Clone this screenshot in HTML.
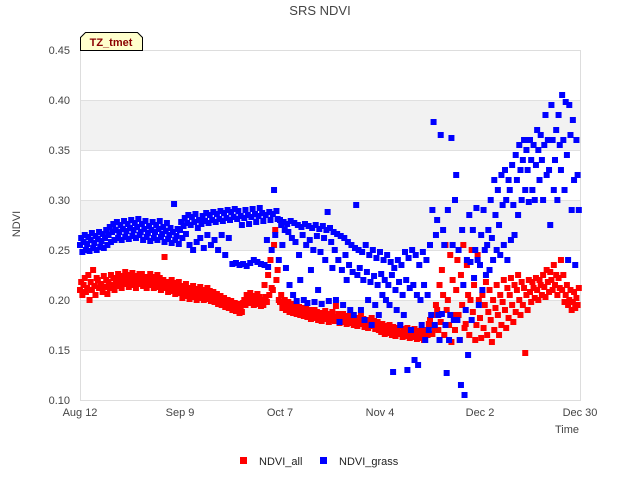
<!DOCTYPE html>
<html><head><meta charset="utf-8"><style>
body{margin:0;background:#fff;}
svg text{font-family:"Liberation Sans",sans-serif;}
</style></head><body>
<svg id="chart" width="640" height="480" xmlns="http://www.w3.org/2000/svg">
<rect x="0" y="0" width="640" height="480" fill="#fff"/>
<text x="320" y="15" text-anchor="middle" font-size="13" fill="#444">SRS NDVI</text>
<g id="grid"></g>
<g id="yticks"></g>
<g id="xticks"></g>
<g id="marks"></g>
<text x="20" y="224" transform="rotate(-90 20 224)" text-anchor="middle" font-size="11" fill="#444">NDVI</text>
<text x="579" y="433" text-anchor="end" font-size="11" fill="#444">Time</text>
<g>
<path d="M80.5,50.5 L80.5,37.5 L85.5,32.5 L137.5,32.5 L142.5,37.5 L142.5,50.5 Z" fill="#ffffcc" stroke="#000" stroke-width="1"/>
<text x="111" y="46" text-anchor="middle" font-size="11" font-weight="bold" fill="#8b0000">TZ_tmet</text>
</g>
<g>
<g><rect x="240" y="457" width="7" height="7" fill="#ff0000"/><text x="259" y="465" font-size="11" fill="#222">NDVI_all</text></g>
<g><rect x="320" y="457" width="7" height="7" fill="#0000ff"/><text x="339" y="465" font-size="11" fill="#222">NDVI_grass</text></g>
</g>
</svg>
<script>
const yTicks=[0.10,0.15,0.20,0.25,0.30,0.35,0.40,0.45];
const yTickLabels=["0.10","0.15","0.20","0.25","0.30","0.35","0.40","0.45"];
const xTickDays=[0,28,56,84,112,140];
const xTickLabels=["Aug 12","Sep 9","Oct 7","Nov 4","Dec 2","Dec 30"];
const ndviAll=[
[.210,.218,.205],[.215,.222,.208],[.212,.225,.200],[.218,.210,.230],[.214,.205,.222],[.220,.212,.215],[.216,.208,.224],
[.213,.220,.206],[.218,.212,.225],[.215,.222,.210],[.220,.214,.226],[.218,.224,.212],[.222,.216,.228],[.219,.225,.213],
[.221,.215,.227],[.218,.224,.212],[.222,.216,.226],[.220,.226,.214],[.218,.223,.212],[.221,.215,.226],[.217,.223,.212],
[.219,.213,.225],[.216,.222,.210],[.214,.220,.243],[.212,.218,.208],[.215,.209,.220],[.211,.217,.206],[.213,.207,.218],
[.208,.214,.202],[.210,.204,.216],[.207,.212,.201],[.209,.203,.214],[.206,.211,.200],[.208,.202,.213],[.205,.210,.200],
[.207,.201,.212],[.204,.209,.199],[.203,.208,.198],[.200,.206,.196],[.199,.204,.195],[.197,.202,.193],[.196,.200,.192],
[.194,.199,.190],[.193,.197,.189],[.191,.196,.187],[.192,.188,.197],[.200,.195,.205],[.202,.197,.207],[.199,.204,.195],
[.201,.196,.206],[.198,.203,.194],[.200,.195,.215],[.203,.198,.225],[.205,.240,.212],[.210,.255,.270],[.220,.230,.200],
[.198,.205,.192],[.195,.200,.190],[.193,.198,.188],[.191,.196,.187],[.190,.194,.186],[.189,.193,.185],[.188,.192,.184],
[.187,.191,.183],[.185,.190,.181],[.186,.182,.190],[.184,.188,.180],[.183,.187,.179],[.185,.181,.189],[.182,.186,.178],
[.184,.180,.188],[.183,.179,.194],[.181,.186,.177],[.182,.178,.186],[.180,.184,.176],[.181,.177,.185],[.179,.183,.175],
[.178,.182,.174],[.180,.176,.184],[.177,.181,.173],[.176,.180,.172],[.178,.174,.182],[.175,.179,.171],[.174,.178,.170],
[.172,.168,.176],[.170,.166,.174],[.171,.167,.175],[.169,.165,.173],[.168,.164,.172],[.170,.166,.174],[.167,.163,.171],
[.168,.164,.172],[.166,.162,.170],[.167,.163,.171],[.165,.161,.169],[.166,.162,.170],[.164,.160,.168],[.170,.165,.176],
[.180,.175,.166],[.185,.172,.195],[.190,.170,.215],[.178,.230,.205],[.165,.255,.190],[.200,.175,.245],[.158,.220,.185],
[.170,.210,.240],[.185,.160,.225],[.195,.255,.172],[.176,.235,.205],[.165,.200,.250],[.188,.215,.160],[.175,.245,.200],
[.182,.162,.205],[.172,.195,.218],[.165,.188,.210],[.180,.158,.200],[.170,.192,.215],[.185,.165,.205],[.175,.198,.220],
[.190,.172,.212],[.182,.205,.222],[.195,.178,.215],[.188,.210,.225],[.200,.185,.218],[.195,.212,.147],[.205,.190,.220],
[.208,.198,.218],[.212,.202,.222],[.210,.200,.220],[.215,.205,.225],[.213,.203,.230],[.218,.208,.228],[.220,.210,.235],
[.215,.225,.205],[.222,.212,.240],[.210,.225,.198],[.205,.215,.195],[.200,.210,.190],[.198,.208,.192],[.202,.195,.212]
];
const ndviGrass=[
[.255,.262,.248],[.258,.265,.250],[.256,.263,.249],[.260,.267,.252],[.257,.264,.250],[.261,.268,.253],[.259,.266,.252],
[.262,.270,.255],[.265,.273,.258],[.268,.276,.260],[.270,.278,.262],[.268,.275,.260],[.271,.279,.263],[.269,.276,.261],
[.272,.280,.264],[.270,.277,.262],[.273,.281,.265],[.268,.276,.260],[.271,.279,.263],[.267,.274,.259],[.270,.278,.262],
[.268,.275,.260],[.271,.279,.263],[.266,.273,.258],[.269,.277,.261],[.265,.272,.257],[.268,.296,.260],[.264,.271,.256],
[.270,.278,.262],[.274,.282,.266],[.277,.285,.255],[.275,.283,.250],[.278,.286,.258],[.272,.280,.262],[.276,.284,.252],
[.279,.287,.265],[.277,.285,.255],[.280,.288,.260],[.278,.286,.250],[.281,.289,.265],[.279,.287,.245],[.282,.290,.262],
[.280,.288,.236],[.283,.291,.237],[.281,.289,.235],[.284,.275,.236],[.282,.290,.234],[.285,.276,.237],[.283,.291,.240],
[.286,.278,.238],[.284,.292,.236],[.287,.279,.235],[.285,.260,.233],[.288,.280,.250],[.286,.310,.265],[.289,.281,.240],
[.280,.275,.255],[.278,.270,.232],[.276,.268,.215],[.279,.262,.205],[.277,.258,.199],[.275,.245,.220],[.273,.265,.200],
[.276,.255,.197],[.274,.260,.230],[.272,.250,.198],[.275,.264,.210],[.271,.248,.196],[.274,.262,.240],[.270,.288,.199],
[.272,.258,.232],[.268,.250,.200],[.266,.240,.178],[.264,.230,.195],[.262,.245,.220],[.258,.235,.190],[.255,.228,.185],
[.252,.295,.225],[.250,.232,.190],[.248,.220,.180],[.255,.228,.200],[.245,.218,.175],[.250,.224,.195],[.242,.215,.185],
[.248,.226,.205],[.240,.220,.200],[.245,.215,.195],[.238,.225,.128],[.232,.210,.190],[.240,.218,.175],[.235,.205,.185],
[.248,.220,.130],[.242,.212,.170],[.250,.215,.140],[.245,.205,.135],[.235,.200,.175],[.248,.215,.160],[.240,.205,.170],
[.255,.185,.290],[.378,.175,.265],[.280,.185,.160],[.365,.186,.270],[.255,.175,.127],[.290,.160,.185],[.362,.255,.180],
[.300,.325,.180],[.250,.160,.115],[.270,.215,.105],[.190,.240,.145],[.285,.238,.180],[.270,.222,.250],[.292,.240,.195],
[.235,.265,.210],[.290,.250,.225],[.255,.270,.230],[.300,.262,.240],[.320,.285,.250],[.310,.275,.245],[.325,.295,.255],
[.330,.300,.240],[.320,.310,.260],[.335,.295,.265],[.345,.320,.285],[.355,.330,.300],[.340,.360,.310],[.350,.330,.298],
[.360,.340,.310],[.355,.300,.335],[.370,.350,.320],[.365,.340,.300],[.355,.385,.325],[.360,.330,.275],[.395,.360,.310],
[.340,.370,.300],[.385,.355,.330],[.405,.360,.310],[.398,.345,.240],[.395,.365,.290],[.380,.320,.235],[.360,.325,.290]
];
const X0=80,X1=580,Y0=400,Y1=50,D0=0,D1=140,V0=0.10,V1=0.45;
function xs(d){return X0+(d-D0)/(D1-D0)*(X1-X0);}
function ys(v){return Y0-(v-V0)/(V1-V0)*(Y0-Y1);}
const NS="http://www.w3.org/2000/svg";
function mk(tag,attrs,parent){const e=document.createElementNS(NS,tag);for(const k in attrs)e.setAttribute(k,attrs[k]);parent.appendChild(e);return e;}
const grid=document.getElementById('grid');
for(let i=0;i<yTicks.length-1;i++){
  if(i%2===1){const b=mk('rect',{x:X0,y:ys(yTicks[i+1]),width:X1-X0,height:ys(yTicks[i])-ys(yTicks[i+1]),fill:'#f2f2f2'},grid);
  
  }
}
yTicks.forEach(v=>{const l=mk('line',{x1:X0,x2:X1,y1:ys(v)+0.5,y2:ys(v)+0.5,stroke:'#e0e0e0'},grid);

});
const fr=mk('rect',{x:X0+0.5,y:Y1+0.5,width:X1-X0,height:Y0-Y1,fill:'none',stroke:'#ddd'},grid);


const yg=document.getElementById('yticks');
yTicks.forEach((v,i)=>{const t=mk('text',{x:70,y:ys(v)+4,'text-anchor':'end','font-size':'11',fill:'#444'},yg);t.textContent=yTickLabels[i];

});
const xg=document.getElementById('xticks');
xTickDays.forEach((d,i)=>{const t=mk('text',{x:xs(d),y:416,'text-anchor':'middle','font-size':'11',fill:'#444'},xg);t.textContent=xTickLabels[i];

});
const marks=document.getElementById('marks');
function drawSeries(data,color,name){
  const g=mk('g',{},marks);
  
  
  data.forEach((vals,day)=>{vals.forEach((v,j)=>{
    const r=mk('rect',{x:xs(day+j/3)-3,y:ys(v)-3,width:6,height:6,fill:color},g);
    
    
  });});
}
drawSeries(ndviAll,'#ff0000','series-ndvi-all');
drawSeries(ndviGrass,'#0000ff','series-ndvi-grass');
</script>
</body></html>
